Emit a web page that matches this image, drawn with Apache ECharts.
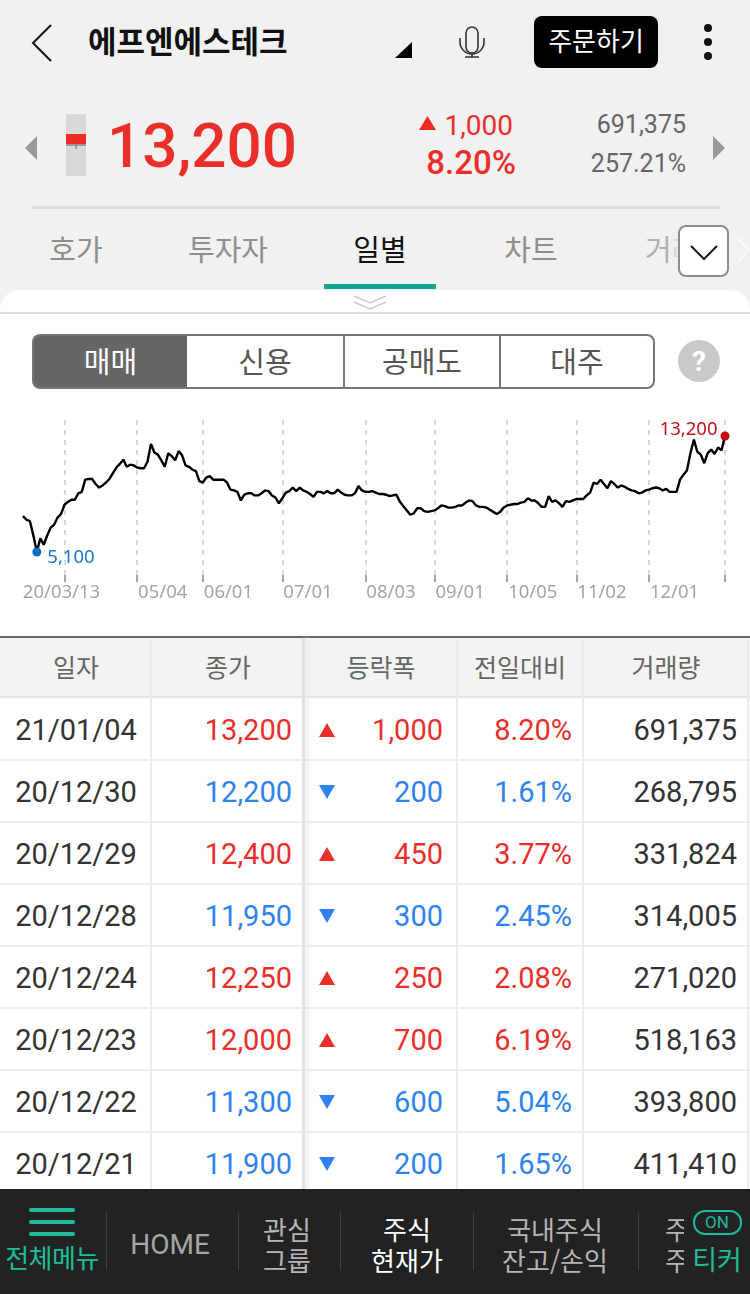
<!DOCTYPE html>
<html lang="ko">
<head>
<meta charset="utf-8">
<title>에프엔에스테크 일별</title>
<script src="https://cdn.jsdelivr.net/npm/echarts@6/dist/echarts.min.js"></script>
<style>
html, body { margin: 0; padding: 0; width: 750px; height: 1294px; overflow: hidden; background: #fff; }
body { font-family: Roboto, "Noto Sans CJK KR", sans-serif; position: relative; }
.abs { position: absolute; white-space: nowrap; }
.c { transform: translate(-50%, -50%); }
.r { transform: translate(-100%, -50%); }
.l { transform: translateY(-50%); }
.kr { font-family: "Noto Sans CJK KR", sans-serif; line-height: 1; }
.red { color: #ea2f2a; }
.blue { color: #2f82f2; }
#top { left: 0; top: 0; width: 750px; height: 312px; background: #f1f1f1; }
#panel { left: 0; top: 290px; width: 750px; height: 22px; background: #fff; border-radius: 20px 20px 0 0; border-bottom: 2px solid #d9d9d9; }
.tab { top: 248px; font-size: 29px; color: #8f8f8f; }
.seg { top: 334px; height: 51px; line-height: 49px; text-align: center; font-size: 29px; color: #555; background: #fff; border: 2px solid #777; box-sizing: content-box; }
.hcell { top: 666px; font-size: 25px; color: #666; }
.vline { top: 638px; width: 2px; height: 551px; background: #ececec; }
.cell { font-size: 29px; }
#bar { left: 0; top: 1189px; width: 750px; height: 105px; background: #222; }
.sep { top: 1212px; width: 1px; height: 58px; background: #3f3f3f; }
.menu { font-size: 26px; line-height: 1; color: #b4b4b4; }
#chart { position: absolute; left: 0; top: 410px; width: 750px; height: 200px; }
</style>
</head>
<body>
<div class="abs" id="top"></div>

<!-- 상단 헤더 -->
<svg class="abs" style="left:0;top:0" width="750" height="290">
  <polyline points="51,25 33,43 51,61" fill="none" stroke="#111" stroke-width="2"/>
  <polygon points="395,58 412,58 412,42" fill="#000"/>
  <rect x="466" y="27" width="12" height="26" rx="6" fill="none" stroke="#333" stroke-width="1.6"/>
  <path d="M460,38 v4 a12,12 0 0 0 24,0 v-4 M472,54 v3 M465,57 h14" fill="none" stroke="#333" stroke-width="1.6"/>
  <circle cx="708" cy="28" r="4" fill="#111"/><circle cx="708" cy="42" r="4" fill="#111"/><circle cx="708" cy="56" r="4" fill="#111"/>
  <polygon points="37,136 25,148 37,160" fill="#999"/>
  <polygon points="713,136 725,148 713,160" fill="#999"/>
  <rect x="66" y="114" width="20" height="62" fill="#d9d9d9"/>
  <rect x="66" y="134" width="20" height="10" fill="#ee2b24"/>
  <rect x="66" y="144" width="20" height="2" fill="#999"/>
  <rect x="75.5" y="144" width="1.4" height="5" fill="#888"/>
  <polygon points="419,130 436,130 427.500,116" fill="#ee2b24"/>
  <rect x="32" y="206" width="688" height="3" fill="#dedede"/>
  <rect x="324" y="284" width="112" height="5" fill="#0aa88a"/>
</svg>
<div class="abs l kr" style="left:88px;top:39px;font-size:31px;font-weight:700;color:#111">에프엔에스테크</div>
<div class="abs" style="left:534px;top:16px;width:124px;height:52px;background:#000;border-radius:8px"></div>
<div class="abs c kr" style="left:596px;top:40px;font-size:26px;color:#fff">주문하기</div>
<div class="abs l red" style="left:107px;top:145px;font-size:62px;font-weight:500">13,200</div>
<div class="abs r red" style="left:513px;top:125px;font-size:28px">1,000</div>
<div class="abs r red" style="left:516px;top:162px;font-size:33px;font-weight:500">8.20%</div>
<div class="abs r" style="left:686px;top:124px;font-size:25px;color:#666">691,375</div>
<div class="abs r" style="left:686px;top:163px;font-size:25px;color:#666">257.21%</div>

<!-- 탭 -->
<div class="abs c tab kr" style="left:76px">호가</div>
<div class="abs c tab kr" style="left:228px">투자자</div>
<div class="abs c tab kr" style="left:380px;color:#111">일별</div>
<div class="abs c tab kr" style="left:531px">차트</div>
<div class="abs l tab kr" style="left:645px;color:#b0b0b0">거래</div>
<div class="abs" style="left:668px;top:228px;width:12px;height:44px;background:linear-gradient(to right, rgba(241,241,241,0), #f1f1f1)"></div>
<div class="abs" style="left:678px;top:225px;width:47px;height:48px;background:#fff;border:2px solid #8c8c8c;border-radius:8px"></div>
<svg class="abs" style="left:678px;top:225px" width="72" height="52">
  <polyline points="13,21 26,34 39,21" fill="none" stroke="#111" stroke-width="2"/>
  <polyline points="60,13 70,25 60,37" fill="none" stroke="#fafafa" stroke-width="2"/>
</svg>
<div class="abs" id="panel"></div>
<svg class="abs" style="left:353px;top:294px" width="34" height="18">
  <polyline points="1,2 17,9 33,2" fill="none" stroke="#ccc" stroke-width="1.5"/>
  <polyline points="1,8 17,15 33,8" fill="none" stroke="#ccc" stroke-width="1.5"/>
</svg>

<!-- 매매 신용 공매도 대주 -->
<div class="abs seg kr" style="left:32px;width:153px;background:#666;color:#fff;border-radius:8px 0 0 8px;border-right:0;line-height:49px">매매</div>
<div class="abs seg kr" style="left:187px;width:156px;border-left:0;border-right:0;line-height:49px">신용</div>
<div class="abs seg kr" style="left:343px;width:154px;border-right:0;line-height:49px">공매도</div>
<div class="abs seg kr" style="left:499px;width:152px;border-radius:0 8px 8px 0;line-height:49px">대주</div>
<div class="abs" style="left:678px;top:340px;width:42px;height:42px;border-radius:50%;background:#c9c9c9"></div>
<div class="abs c" style="left:699px;top:361px;font-size:28px;font-weight:700;color:#fff">?</div>

<div id="chart"></div>

<!-- 표 머리 -->
<div class="abs" style="left:0;top:636px;width:750px;height:2px;background:#666"></div>
<div class="abs" style="left:0;top:638px;width:750px;height:59px;background:#f3f3f3"></div>
<div class="abs" style="left:0;top:696px;width:750px;height:2px;background:#e6e6e6"></div>
<div id="rows"></div>
<div class="abs vline" style="left:150px"></div>
<div class="abs vline" style="left:302px;width:3px;background:#e2e2e2;box-shadow:3px 0 5px #e6e6e6"></div>
<div class="abs vline" style="left:456px"></div>
<div class="abs vline" style="left:582px"></div>
<div class="abs vline" style="left:747px"></div>
<div class="abs c hcell kr" style="left:76px">일자</div>
<div class="abs c hcell kr" style="left:228px">종가</div>
<div class="abs c hcell kr" style="left:381px">등락폭</div>
<div class="abs c hcell kr" style="left:520px">전일대비</div>
<div class="abs c hcell kr" style="left:666px">거래량</div>

<!-- 하단 메뉴 -->
<div class="abs" id="bar"></div>
<div class="abs" style="left:29px;top:1208px;width:46px;height:4px;background:#1dbd9a;border-radius:2px"></div>
<div class="abs" style="left:29px;top:1220px;width:46px;height:4px;background:#1dbd9a;border-radius:2px"></div>
<div class="abs" style="left:29px;top:1232px;width:46px;height:4px;background:#1dbd9a;border-radius:2px"></div>
<div class="abs c kr" style="left:52px;top:1257px;font-size:26px;color:#1dbd9a;letter-spacing:-0.5px">전체메뉴</div>
<div class="abs sep" style="left:106px"></div>
<div class="abs sep" style="left:238px"></div>
<div class="abs sep" style="left:340px"></div>
<div class="abs sep" style="left:473px"></div>
<div class="abs sep" style="left:638px"></div>
<div class="abs c menu" style="left:170px;top:1245px;font-size:28px;color:#a6a6a6">HOME</div>
<div class="abs c menu kr" style="left:287px;top:1229px">관심</div>
<div class="abs c menu kr" style="left:287px;top:1260px">그룹</div>
<div class="abs c menu kr" style="left:407px;top:1229px;color:#fff">주식</div>
<div class="abs c menu kr" style="left:407px;top:1260px;color:#fff">현재가</div>
<div class="abs c menu kr" style="left:555px;top:1229px">국내주식</div>
<div class="abs c menu kr" style="left:555px;top:1260px">잔고/손익</div>
<div class="abs l menu kr" style="left:665px;top:1229px">주</div>
<div class="abs l menu kr" style="left:665px;top:1260px">주</div>
<div class="abs" style="left:684px;top:1200px;width:66px;height:94px;background:#222"></div>
<div class="abs" style="left:693px;top:1210px;width:45px;height:21px;border:2px solid #1dbd9a;border-radius:12px;background:#222"></div>
<div class="abs c" style="left:717px;top:1222px;font-size:17px;color:#1dbd9a">ON</div>
<div class="abs c kr" style="left:717px;top:1258px;font-size:27px;color:#1dbd9a">티커</div>

<script>
//일별 종가 (차트)
var closePrices = [
    7600, 7350, 7250, 6250, 5100, 6050, 5600, 6250, 6800, 7000,
    7500, 7750, 8400, 8600, 8750, 8750, 9200, 9300, 10150, 10200,
    10200, 9850, 9600, 9750, 9950, 10200, 10600, 11000, 11250, 11550,
    11050, 11200, 11150, 11000, 10950, 10950, 11400, 12650, 12050, 11900,
    11500, 11050, 12000, 11800, 11500, 12150, 11850, 11150, 11050, 10850,
    10750, 10050, 9950, 10300, 10400, 10150, 10150, 10150, 10150, 9950,
    9450, 9400, 9300, 8700, 9100, 9200, 9200, 9050, 9050, 9200,
    9400, 9350, 9050, 8900, 8500, 8850, 9250, 9350, 9600, 9350,
    9600, 9400, 9300, 9150, 8950, 9300, 9300, 9200, 9350, 9200,
    9200, 9450, 9250, 9100, 9050, 9050, 9200, 9700, 9400, 9300,
    9300, 9350, 9250, 9150, 9150, 9100, 9000, 9050, 9100, 8600,
    8300, 8000, 7700, 7800, 8150, 8150, 7950, 7900, 7950, 8000,
    8150, 8350, 8300, 8200, 8200, 8250, 8350, 8350, 8550, 8700,
    8650, 8350, 8250, 8250, 8200, 8050, 7900, 7750, 7900, 8200,
    8350, 8400, 8450, 8450, 8550, 8600, 8850, 8700, 8700, 8500,
    8250, 8250, 9000, 8600, 8700, 8500, 8250, 8650, 8600, 8700,
    8800, 8800, 8800, 9050, 9250, 9950, 9850, 10150, 9850, 9550,
    10050, 9850, 9600, 9750, 9650, 9500, 9400, 9350, 9200, 9250,
    9400, 9450, 9550, 9600, 9550, 9400, 9500, 9300, 9300, 9300,
    10150, 10500, 10800, 12000, 12950, 12100, 11900, 11300, 12000, 12250,
    11950, 12400, 12200, 13200
];
//눈금 위치와 라벨
var tickIndex = [12, 33, 52, 75, 99, 119, 140, 160, 181, 203];
var tickLabels = ['20/03/13', '05/04', '06/01', '07/01', '08/03', '09/01', '10/05', '11/02', '12/01', ''];
//최저 최고
var lowIndex = 4;
var lowValue = 5100;
var highIndex = 203;
var highValue = 13200;

//일별 표
var rowDates = ['21/01/04', '20/12/30', '20/12/29', '20/12/28', '20/12/24', '20/12/23', '20/12/22', '20/12/21'];
var rowClose = ['13,200', '12,200', '12,400', '11,950', '12,250', '12,000', '11,300', '11,900'];
var rowChange = ['1,000', '200', '450', '300', '250', '700', '600', '200'];
var rowRate = ['8.20%', '1.61%', '3.77%', '2.45%', '2.08%', '6.19%', '5.04%', '1.65%'];
var rowVolume = ['691,375', '268,795', '331,824', '314,005', '271,020', '518,163', '393,800', '411,410'];
var rowUp = [true, false, true, false, true, true, false, false];

function addCell(parent, cls, left, top, text, color) {
    var el = document.createElement('div');
    el.className = 'abs cell ' + cls;
    el.style.left = left + 'px';
    el.style.top = top + 'px';
    if (color) el.style.color = color;
    el.textContent = text;
    parent.appendChild(el);
}

function BindRows() {
    var box = document.getElementById('rows');
    for (var i = 0; i < rowDates.length; i++) {
        var mid = 730 + i * 62;
        var tone = rowUp[i] ? 'red' : 'blue';
        addCell(box, 'c', 76, mid, rowDates[i], '#333');
        addCell(box, 'r ' + tone, 292, mid, rowClose[i]);
        addCell(box, 'r ' + tone, 443, mid, rowChange[i]);
        addCell(box, 'r ' + tone, 572, mid, rowRate[i]);
        addCell(box, 'r', 737, mid, rowVolume[i], '#333');
        //등락 화살표
        var arrow = document.createElement('div');
        arrow.className = 'abs';
        arrow.style.left = '319px';
        arrow.style.top = (mid - 7) + 'px';
        arrow.style.width = '0';
        arrow.style.height = '0';
        arrow.style.borderLeft = '8.5px solid transparent';
        arrow.style.borderRight = '8.5px solid transparent';
        if (rowUp[i]) arrow.style.borderBottom = '14px solid #ea2f2a';
        else arrow.style.borderTop = '14px solid #2f82f2';
        box.appendChild(arrow);
        //행 구분선
        var line = document.createElement('div');
        line.className = 'abs';
        line.style.left = '0';
        line.style.top = (mid + 29) + 'px';
        line.style.width = '750px';
        line.style.height = '2px';
        line.style.background = '#eeeeee';
        box.appendChild(line);
    }
}

function isTick(index) {
    return tickIndex.indexOf(index) >= 0;
}

function InitChart() {
    var chart = echarts.init(document.getElementById('chart'));
    var categories = closePrices.map(function (v, i) {
        var k = tickIndex.indexOf(i);
        var name = k >= 0 ? tickLabels[k] : String(i);
        //첫 라벨만 가운데 정렬
        if (i === tickIndex[0]) return { value: name, textStyle: { align: 'center', padding: [0, 6, 0, 0] } };
        return name;
    });
    chart.setOption({
        animation: false,
        grid: { left: 23, right: 25, top: 10, height: 162 },
        xAxis: {
            type: 'category',
            boundaryGap: false,
            data: categories,
            axisLine: { show: false },
            axisTick: { show: true, inside: true, length: 7, interval: isTick, lineStyle: { color: '#a8a8a8', width: 2 } },
            splitLine: { show: true, interval: isTick, lineStyle: { color: '#d8d8d8', width: 2, type: [5, 5] } },
            axisLabel: {
                show: true,
                interval: isTick,
                align: 'left',
                padding: [0, 0, 0, 1],
                margin: 1,
                fontFamily: 'Noto Sans',
                fontSize: 18.5,
                color: '#a5a5a5'
            }
        },
        yAxis: { type: 'value', min: 3000, max: 14320, show: false },
        series: [{
            type: 'line',
            data: closePrices,
            symbol: 'none',
            silent: true,
            lineStyle: { color: '#000', width: 2.4 },
            markPoint: {
                symbol: 'circle',
                symbolSize: 9,
                silent: true,
                data: [
                    {
                        coord: [lowIndex, lowValue],
                        itemStyle: { color: '#0a6fc4' },
                        label: { show: true, position: 'right', offset: [1, 6], formatter: '5,100', color: '#1a78c2', fontFamily: 'Noto Sans', fontSize: 18.5 }
                    },
                    {
                        coord: [highIndex, highValue],
                        itemStyle: { color: '#cc0a14' },
                        label: { show: true, position: 'left', offset: [2, -6], formatter: '13,200', color: '#c4121c', fontFamily: 'Noto Sans', fontSize: 18.5 }
                    }
                ]
            }
        }]
    });
}

BindRows();
InitChart();
</script>
</body>
</html>
